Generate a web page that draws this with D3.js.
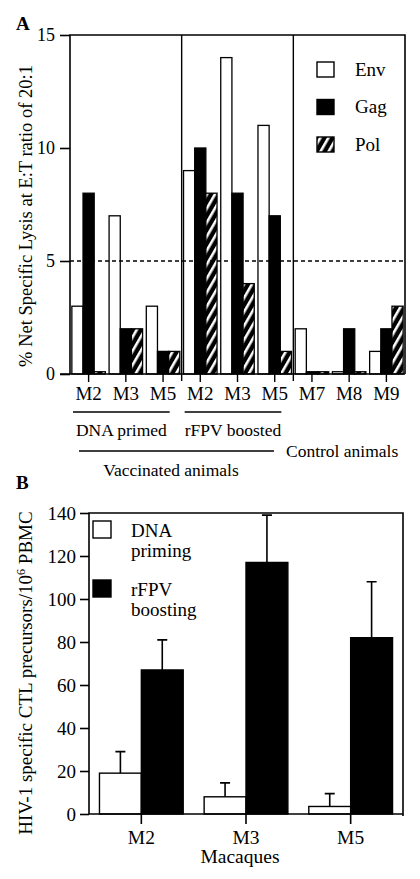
<!DOCTYPE html>
<html><head><meta charset="utf-8">
<script src="https://cdn.jsdelivr.net/npm/d3@7"></script>
<style>
body{margin:0;background:#fff;}
svg text{font-family:"Liberation Serif","Times New Roman",serif;fill:#000;}
</style></head>
<body><svg id="c" width="420" height="879"></svg>
<script>
// ---------- DATA: panel A ----------
const categoriesA = ["M2","M3","M5","M2","M3","M5","M7","M8","M9"];
const groupsA = ["DNA primed","rFPV boosted","Control animals"];
const seriesA = ["Env","Gag","Pol"];
const envA = [3, 7, 3, 9, 14, 11, 2, 0.1, 1];
const gagA = [8, 2, 1, 10, 8, 7, 0.1, 2, 2];
const polA = [0.1, 2, 1, 8, 4, 1, 0.1, 0.1, 3];
const ticksA = [0, 5, 10, 15];
const thresholdA = 5;
// ---------- DATA: panel B ----------
const categoriesB = ["M2","M3","M5"];
const seriesB = ["DNA priming","rFPV boosting"];
const dnaB = [19, 8, 3.5];
const dnaErrB = [10, 6.5, 6];
const rfpvB = [67, 117, 82];
const rfpvErrB = [14, 22, 26];
const ticksB = [0, 20, 40, 60, 80, 100, 120, 140];

const svg = d3.select("#c");
const defs = svg.append("defs");
const pat = defs.append("pattern").attr("id","hatch").attr("patternUnits","userSpaceOnUse")
  .attr("width",7).attr("height",7).attr("patternTransform","rotate(30)");
pat.append("rect").attr("width",7).attr("height",7).attr("fill","#000");
pat.append("rect").attr("x",2).attr("width",2.6).attr("height",7).attr("fill","#fff");

const fills = {Env:"#fff", Gag:"#000", Pol:"url(#hatch)"};

// ================= PANEL A =================
const A = {l:70, r:405, t:35, b:374};
const yA = d3.scaleLinear().domain([0,15]).range([A.b, A.t]);
const xA = d3.scaleBand().domain(d3.range(categoriesA.length)).range([A.l, A.r]).paddingInner(0.1).paddingOuter(0.05);
const xSubA = d3.scaleBand().domain(seriesA).range([0, xA.bandwidth()]);
const valsA = {Env: envA, Gag: gagA, Pol: polA};

svg.append("text").attr("x",16).attr("y",30).attr("font-size",19).attr("font-weight","bold").text("A");

seriesA.forEach(s=>{
  svg.append("g").selectAll("rect").data(valsA[s]).join("rect")
    .attr("x",(d,i)=>xA(i)+xSubA(s))
    .attr("y",d=>yA(d))
    .attr("width",xSubA.bandwidth())
    .attr("height",d=>yA(0)-yA(d))
    .attr("fill",fills[s]).attr("stroke","#000").attr("stroke-width",1.3);
});

svg.append("line").attr("x1",A.l).attr("x2",A.r).attr("y1",yA(thresholdA)).attr("y2",yA(thresholdA))
  .attr("stroke","#000").attr("stroke-width",1.6).attr("stroke-dasharray","4,3");

svg.append("path").attr("d",`M${A.l},${A.b}V${A.t}H${A.r}V${A.b}`).attr("fill","none").attr("stroke","#000").attr("stroke-width",1.6);
[3,6].forEach(i=>{
  const x = A.l + (A.r-A.l)*i/categoriesA.length;
  svg.append("line").attr("x1",x).attr("x2",x).attr("y1",A.t).attr("y2",A.b+7).attr("stroke","#000").attr("stroke-width",1.4);
});

const gyA = svg.append("g").attr("transform",`translate(${A.l},0)`)
  .call(d3.axisLeft(yA).tickValues(ticksA).tickSize(10).tickSizeOuter(0).tickPadding(5));
gyA.select(".domain").remove();
gyA.selectAll("line").attr("stroke-width",1.6);
gyA.selectAll("text").attr("font-size",18);

const gxA = svg.append("g").attr("transform",`translate(0,${A.b})`)
  .call(d3.axisBottom(xA).tickFormat(i=>categoriesA[i]).tickSize(8).tickSizeOuter(0).tickPadding(5));
gxA.select(".domain").attr("d",`M${A.l - 10},0H${A.r}`).attr("stroke-width",1.6);
gxA.selectAll("line").attr("stroke-width",1.4);
gxA.selectAll("text").attr("font-size",19);

svg.append("text").attr("transform",`translate(32,216) rotate(-90)`)
  .attr("text-anchor","middle").attr("font-size",18.5).text("% Net Specific Lysis at E:T ratio of 20:1");

const gx = i => A.l + (A.r-A.l)*i/categoriesA.length;
[[0,3],[3,6]].forEach(([a,b],k)=>{
  svg.append("line").attr("x1",gx(a)+3).attr("x2",gx(b)-12).attr("y1",412).attr("y2",412).attr("stroke","#000").attr("stroke-width",1.5);
  svg.append("text").attr("x",(gx(a)+gx(b)-9)/2).attr("y",436).attr("text-anchor","middle").attr("font-size",17.5).text(groupsA[k]);
});
svg.append("line").attr("x1",79).attr("x2",274).attr("y1",451).attr("y2",451).attr("stroke","#000").attr("stroke-width",1.5);
svg.append("text").attr("x",286).attr("y",457).attr("font-size",17.5).text(groupsA[2]);
svg.append("text").attr("x",171).attr("y",476).attr("text-anchor","middle").attr("font-size",17.5).text("Vaccinated animals");

seriesA.forEach((s,i)=>{
  const y = 62 + i*37.5;
  svg.append("rect").attr("x",317).attr("y",y).attr("width",17).attr("height",15)
    .attr("fill",fills[s]).attr("stroke","#000").attr("stroke-width",1.4);
  svg.append("text").attr("x",355).attr("y",y+13.5).attr("font-size",19).text(s);
});

// ================= PANEL B =================
const B = {l:89, r:403, t:513, b:814};
const yB = d3.scaleLinear().domain([0,140]).range([B.b, B.t]);
const xB = d3.scaleBand().domain(categoriesB).range([B.l, B.r]).paddingInner(0.2).paddingOuter(0.1);
const xSubB = d3.scaleBand().domain(seriesB).range([0, xB.bandwidth()]);
const valsB = {"DNA priming": dnaB, "rFPV boosting": rfpvB};
const errB = {"DNA priming": dnaErrB, "rFPV boosting": rfpvErrB};
const fillB = {"DNA priming":"#fff", "rFPV boosting":"#000"};

svg.append("text").attr("x",16).attr("y",489).attr("font-size",19).attr("font-weight","bold").text("B");

seriesB.forEach(s=>{
  const g = svg.append("g");
  g.selectAll("path.err").data(valsB[s]).join("path").attr("class","err")
    .attr("d",(d,i)=>{
      const cx = xB(categoriesB[i]) + xSubB(s) + xSubB.bandwidth()/2;
      const yt = yB(d + errB[s][i]);
      return `M${cx},${yB(d)}V${yt}M${cx-5},${yt}H${cx+5}`;
    })
    .attr("fill","none").attr("stroke","#000").attr("stroke-width",1.6);
  g.selectAll("rect").data(valsB[s]).join("rect")
    .attr("x",(d,i)=>xB(categoriesB[i])+xSubB(s))
    .attr("y",d=>yB(d))
    .attr("width",xSubB.bandwidth())
    .attr("height",d=>yB(0)-yB(d))
    .attr("fill",fillB[s]).attr("stroke","#000").attr("stroke-width",1.4);
});

svg.append("path").attr("d",`M${B.l},${B.b}V${B.t}H${B.r}V${B.b+2}`).attr("fill","none").attr("stroke","#000").attr("stroke-width",1.6);

const gyB = svg.append("g").attr("transform",`translate(${B.l},0)`)
  .call(d3.axisLeft(yB).tickValues(ticksB).tickSize(9).tickSizeOuter(0).tickPadding(4));
gyB.select(".domain").remove();
gyB.selectAll("line").attr("stroke-width",1.6);
gyB.selectAll("text").attr("font-size",19);

const gxB = svg.append("g").attr("transform",`translate(0,${B.b})`)
  .call(d3.axisBottom(xB).tickSize(10).tickSizeOuter(0).tickPadding(6));
gxB.select(".domain").attr("d",`M${B.l},0H${B.r}`).attr("stroke-width",1.6);
gxB.selectAll("line").attr("stroke-width",1.6);
gxB.selectAll("text").attr("font-size",19.5);

svg.append("text").attr("x",240).attr("y",863).attr("text-anchor","middle").attr("font-size",19.5).text("Macaques");

const yl = svg.append("text").attr("transform",`translate(32,673) rotate(-90)`)
  .attr("text-anchor","middle").attr("font-size",19);
yl.append("tspan").text("HIV-1 specific CTL precursors/10");
yl.append("tspan").attr("font-size",12).attr("dy",-7).text("6");
yl.append("tspan").attr("dy",7).text(" PBMC");

const legB = [["DNA","priming"],["rFPV","boosting"]];
seriesB.forEach((s,i)=>{
  const y = 521 + i*59;
  svg.append("rect").attr("x",93).attr("y",y).attr("width",18).attr("height",17)
    .attr("fill",fillB[s]).attr("stroke","#000").attr("stroke-width",1.4);
  svg.append("text").attr("x",131).attr("y",y+16).attr("font-size",19).text(legB[i][0]);
  svg.append("text").attr("x",131).attr("y",y+36).attr("font-size",19).text(legB[i][1]);
});
</script></body></html>
